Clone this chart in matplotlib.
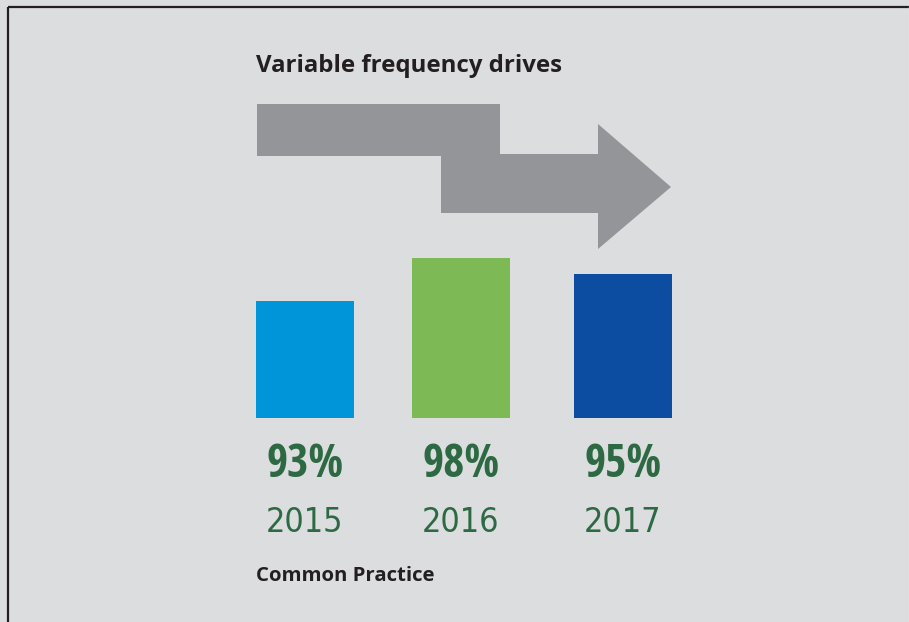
import matplotlib
matplotlib.use("Agg")
import matplotlib.pyplot as plt
from matplotlib.patches import Polygon
from matplotlib import font_manager
from matplotlib.font_manager import FontProperties

# ---- data ----
years = ["2015", "2016", "2017"]
percent_values = [93, 98, 95]
bar_heights = [117, 160, 144]   # visual bar heights (px units)
bar_colors = ["#0095d9", "#7db955", "#0c4da2"]
title_text = "Variable frequency drives"
footer_text = "Common Practice"

W, H = 909, 622
fig = plt.figure(figsize=(W / 100, H / 100), dpi=100)
fig.patch.set_facecolor("#dcdddf")
ax = fig.add_axes([0, 0, 1, 1])
ax.set_xlim(0, W)
ax.set_ylim(0, H)
ax.axis("off")

# look for a condensed / narrow face
cands = [f for f in font_manager.fontManager.ttflist
         if ("condensed" in f.fname.lower() or "narrow" in f.fname.lower()
             or f.stretch in ("condensed", "semi-condensed", "extra-condensed"))]
def pick(bold):
    good = []
    for f in cands:
        fb = str(f.weight) in ("bold", "700", "600", "semibold", "demibold") or "bold" in f.fname.lower()
        obl = f.style != "normal" or "oblique" in f.fname.lower() or "italic" in f.fname.lower()
        if fb == bold and not obl:
            good.append(f)
    if not good:
        return None
    good.sort(key=lambda f: ("extra" in f.fname.lower(), len(f.fname)))
    return good[0].fname

fb = pick(True)
fr = pick(False)
fp_bold = FontProperties(fname=fb) if fb else FontProperties(family="Roboto", weight="bold")
fp_reg = FontProperties(fname=fr) if fr else FontProperties(family="Roboto")

# border
ax.plot([7.5, 7.5], [0, H - 6.5], color="#231f20", lw=1.6, solid_capstyle="butt")
ax.plot([7.5, W], [H - 6.5, H - 6.5], color="#231f20", lw=1.6, solid_capstyle="butt")
ax.plot([908.5, 908.5], [0, H - 6.5], color="#ececec", lw=1.0)

# stepped arrow (decoration)
def fy(y):
    return H - y
arrow_pts = [(257, 104), (500, 104), (500, 154), (598, 154), (598, 124), (671, 187),
             (598, 249), (598, 213), (441, 213), (441, 156), (257, 156)]
ax.add_patch(Polygon([(x, fy(y)) for x, y in arrow_pts], closed=True,
                     facecolor="#939598", edgecolor="none"))

# bars
x_centers = [305, 461, 623]
bar_bottom = H - 418
ax.bar(x_centers, bar_heights, width=98, bottom=bar_bottom, color=bar_colors,
       edgecolor="none")

green = "#2d6a43"
for xc, p, yr in zip(x_centers, percent_values, years):
    t1 = ax.text(xc, H - 477, f"{p}%", ha="center", va="baseline", color=green,
                 fontproperties=fp_bold)
    t1.set_fontsize(33)
    t2 = ax.text(xc, H - 532, yr, ha="center", va="baseline", color=green,
                 fontproperties=fp_reg)
    t2.set_fontsize(24.5)

ax.text(256, H - 72, title_text, ha="left", va="baseline", fontsize=17.3,
        fontweight="bold", color="#231f20", family=["Open Sans", "DejaVu Sans"])
ax.text(256, H - 581, footer_text, ha="left", va="baseline", fontsize=14.7,
        fontweight="bold", color="#231f20", family=["Open Sans", "DejaVu Sans"])

fig.savefig("out.png", dpi=100, facecolor=fig.get_facecolor())
